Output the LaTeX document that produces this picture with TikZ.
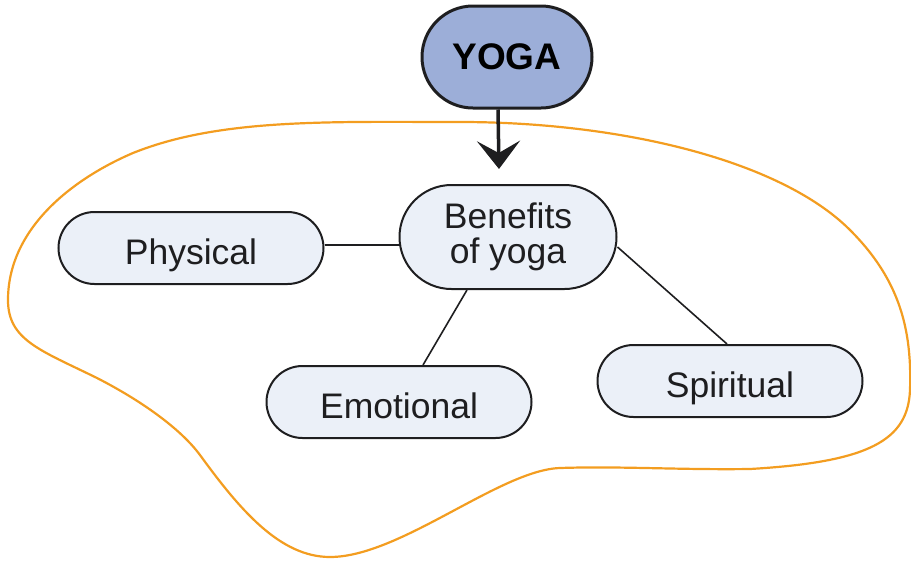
\documentclass[tikz,border=0pt]{standalone}
\usepackage{fontspec}
\setmainfont{Liberation Sans}
\usetikzlibrary{arrows.meta,backgrounds}
\definecolor{yogablue}{RGB}{156,174,216}
\definecolor{paleblue}{RGB}{235,240,248}
\definecolor{blobline}{RGB}{243,157,32}
\definecolor{ink}{RGB}{30,30,32}
\begin{document}
\begin{tikzpicture}[x=1pt,y=-1pt,
  pill/.style={draw=ink, line width=2pt, fill=paleblue, text=ink,
    rounded corners=36pt, minimum width=265pt, minimum height=72pt,
    inner sep=0pt, text height=32pt, text depth=0pt,
    font=\fontsize{35.5}{35}\selectfont},
  hub/.style={draw=ink, line width=2pt, fill=paleblue, text=ink,
    rounded corners=52pt, minimum width=217pt, minimum height=104pt,
    inner sep=0pt, align=center, font=\fontsize{35.5}{35}\selectfont},
  topic/.style={draw=ink, line width=3pt, fill=yogablue, text=black,
    rounded corners=51pt, minimum width=170pt, minimum height=102pt,
    inner sep=0pt, text height=24pt, text depth=0pt,
    font=\bfseries\fontsize{37}{40}\selectfont},
  link/.style={draw=ink, line width=1.6pt},
  lead/.style={draw=ink, line width=3.5pt,
    -{Stealth[length=28pt,width=43pt,inset=12pt]}},
  outline/.style={draw=blobline, line width=2.2pt}]

\useasboundingbox (0,0) rectangle (911,560);

% enclosing freehand outline
\draw[outline] (8,300)
  .. controls (8,230) and (70,180) .. (133,153)
  .. controls (220,118) and (330,122) .. (460,122)
  .. controls (620,122) and (780,160) .. (850,230)
  .. controls (900,280) and (912,330) .. (910,390)
  .. controls (908,440) and (870,462) .. (750,469)
  .. controls (680,470) and (620,466) .. (560,468)
  .. controls (500,470) and (400,557) .. (330,557)
  .. controls (280,557) and (240,510) .. (200,455)
  .. controls (180,428) and (140,400) .. (97,378)
  .. controls (40,350) and (8,340) .. cycle;

% nodes
\node[topic] (yoga) at (507,57) {YOGA};
\node[hub]   (ben)  at (508,237) {Benefits\\of yoga};
\node[pill]  (phys) at (191,248) {Physical};
\node[pill]  (emo)  at (399,402) {Emotional};
\node[pill]  (spi)  at (730,381) {Spiritual};

% connectors
\draw[lead] ([xshift=-9pt]yoga.south) -- ([xshift=-9pt,yshift=15pt]ben.north);
\begin{scope}[on background layer]
  \draw[link] ([yshift=3pt]phys.east) -- ([xshift=2pt,yshift=-8pt]ben.west);
  \draw[link] ([xshift=-41pt]ben.south) -- ([xshift=24pt]emo.north);
  \draw[link] ([yshift=-10pt]ben.east) -- ([xshift=-3pt]spi.north);
\end{scope}
\end{tikzpicture}
\end{document}
